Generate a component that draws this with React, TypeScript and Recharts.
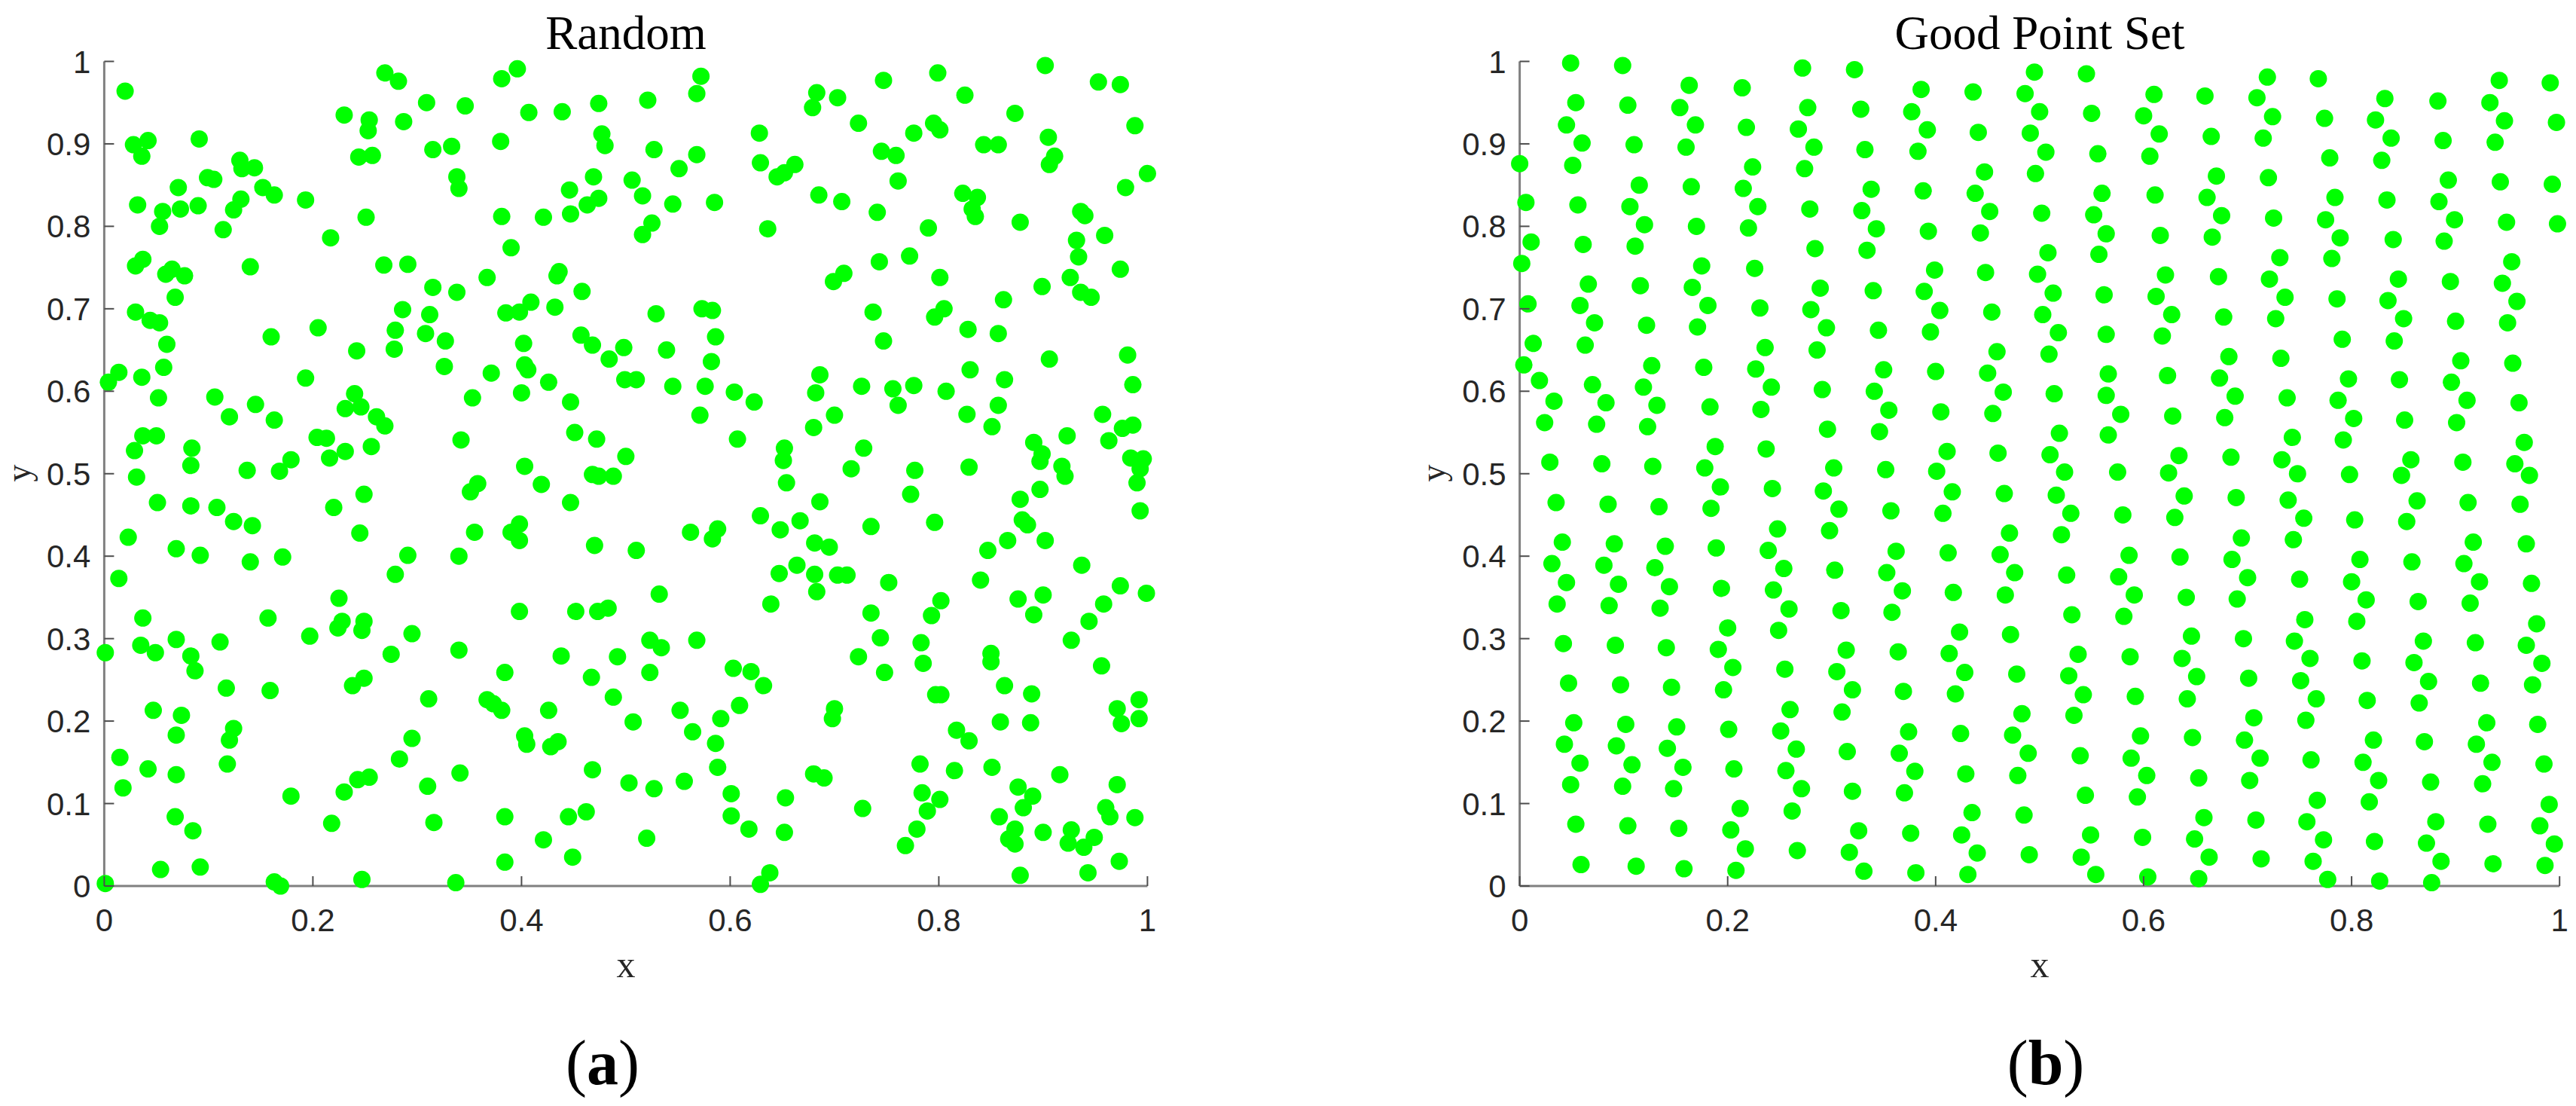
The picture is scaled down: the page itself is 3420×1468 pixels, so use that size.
import React from "react";
import { Scatter, ScatterChart, XAxis, YAxis } from "recharts";

const xTicks = [0, 0.2, 0.4, 0.6, 0.8, 1];
const yTicks = [0, 0.1, 0.2, 0.3, 0.4, 0.5, 0.6, 0.7, 0.8, 0.9, 1];

// (a) Random
const randomPoints: [number, number][] = [
  [0.020,0.964],[0.269,0.986],[0.282,0.976],[0.381,0.979],[0.396,0.991],[0.309,0.950],[0.346,0.946],[0.407,0.938],[0.439,0.939],[0.474,0.949],
  [0.230,0.935],[0.254,0.929],[0.253,0.916],[0.287,0.927],[0.028,0.899],[0.042,0.904],[0.036,0.885],[0.091,0.906],[0.244,0.884],[0.257,0.886],
  [0.315,0.893],[0.333,0.897],[0.380,0.903],[0.477,0.912],[0.480,0.898],[0.130,0.880],[0.132,0.870],[0.144,0.871],[0.099,0.859],[0.105,0.857],
  [0.071,0.847],[0.152,0.847],[0.163,0.838],[0.338,0.860],[0.340,0.846],[0.469,0.860],[0.506,0.856],[0.032,0.826],[0.056,0.818],[0.073,0.821],
  [0.090,0.825],[0.131,0.833],[0.124,0.820],[0.193,0.832],[0.053,0.800],[0.251,0.811],[0.381,0.812],[0.421,0.811],[0.446,0.844],[0.474,0.834],
  [0.463,0.826],[0.447,0.815],[0.114,0.796],[0.217,0.786],[0.390,0.774],[0.030,0.752],[0.037,0.760],[0.059,0.742],[0.065,0.748],[0.077,0.740],
  [0.068,0.714],[0.140,0.751],[0.268,0.753],[0.291,0.754],[0.367,0.738],[0.436,0.745],[0.434,0.740],[0.315,0.726],[0.338,0.720],[0.458,0.721],
  [0.030,0.696],[0.044,0.686],[0.053,0.683],[0.060,0.657],[0.160,0.666],[0.205,0.677],[0.286,0.699],[0.312,0.693],[0.279,0.674],[0.308,0.670],
  [0.327,0.661],[0.278,0.651],[0.242,0.649],[0.385,0.695],[0.398,0.696],[0.409,0.708],[0.432,0.702],[0.457,0.668],[0.468,0.656],[0.402,0.658],
  [0.484,0.639],[0.498,0.653],[0.403,0.632],[0.406,0.626],[0.326,0.630],[0.371,0.622],[0.426,0.611],[0.400,0.598],[0.447,0.587],[0.353,0.592],
  [0.193,0.616],[0.004,0.611],[0.014,0.623],[0.036,0.617],[0.057,0.629],[0.052,0.592],[0.106,0.593],[0.120,0.569],[0.145,0.584],[0.163,0.565],
  [0.240,0.597],[0.231,0.579],[0.246,0.581],[0.261,0.569],[0.269,0.558],[0.037,0.546],[0.050,0.546],[0.029,0.528],[0.084,0.531],[0.083,0.510],
  [0.204,0.544],[0.213,0.543],[0.216,0.519],[0.231,0.527],[0.256,0.533],[0.179,0.517],[0.168,0.503],[0.137,0.504],[0.342,0.541],[0.451,0.550],
  [0.472,0.542],[0.403,0.509],[0.500,0.521],[0.031,0.496],
  [0.572,0.982],[0.568,0.961],[0.521,0.953],[0.683,0.962],[0.679,0.944],[0.703,0.956],[0.747,0.977],[0.799,0.986],[0.902,0.995],[0.953,0.975],
  [0.974,0.972],[0.825,0.959],[0.873,0.937],[0.723,0.925],[0.795,0.925],[0.801,0.917],[0.776,0.913],[0.988,0.922],[0.628,0.913],[0.905,0.908],
  [0.843,0.899],[0.857,0.899],[0.527,0.893],[0.568,0.887],[0.551,0.870],[0.629,0.877],[0.662,0.875],[0.645,0.860],[0.652,0.865],[0.745,0.891],
  [0.759,0.886],[0.911,0.885],[0.906,0.875],[1.000,0.864],[0.979,0.847],[0.761,0.855],[0.516,0.837],[0.545,0.827],[0.585,0.829],[0.685,0.838],
  [0.707,0.830],[0.741,0.817],[0.823,0.840],[0.837,0.835],[0.832,0.821],[0.835,0.812],[0.878,0.805],[0.936,0.818],[0.940,0.813],[0.790,0.798],
  [0.636,0.797],[0.525,0.804],[0.516,0.790],[0.932,0.783],[0.959,0.789],[0.934,0.763],[0.743,0.757],[0.772,0.764],[0.709,0.743],[0.699,0.733],
  [0.801,0.738],[0.974,0.748],[0.899,0.727],[0.926,0.738],[0.936,0.720],[0.946,0.714],[0.862,0.711],[0.529,0.694],[0.573,0.700],[0.583,0.698],
  [0.586,0.666],[0.737,0.696],[0.805,0.700],[0.796,0.690],[0.828,0.675],[0.857,0.670],[0.747,0.661],[0.906,0.639],[0.981,0.644],[0.539,0.650],
  [0.582,0.636],[0.499,0.614],[0.510,0.614],[0.545,0.606],[0.576,0.606],[0.604,0.599],[0.623,0.587],[0.571,0.571],[0.686,0.620],[0.682,0.598],
  [0.726,0.606],[0.756,0.603],[0.761,0.583],[0.776,0.607],[0.807,0.600],[0.830,0.626],[0.863,0.614],[0.857,0.583],[0.827,0.572],[0.851,0.557],
  [0.700,0.571],[0.680,0.556],[0.607,0.542],[0.652,0.531],[0.651,0.516],[0.728,0.531],[0.986,0.608],[0.957,0.572],[0.976,0.555],[0.986,0.559],
  [0.963,0.540],[0.923,0.546],[0.891,0.538],[0.899,0.524],[0.897,0.515],[0.918,0.509],[0.984,0.519],[0.996,0.518],[0.993,0.506],[0.716,0.506],
  [0.777,0.504],[0.829,0.508],
  [0.468,0.499],[0.474,0.497],[0.488,0.497],[0.051,0.465],[0.083,0.461],[0.108,0.459],[0.124,0.442],[0.142,0.437],[0.023,0.423],[0.069,0.409],
  [0.092,0.401],[0.140,0.393],[0.171,0.399],[0.220,0.459],[0.249,0.475],[0.245,0.428],[0.291,0.401],[0.279,0.378],[0.340,0.400],[0.351,0.478],
  [0.358,0.488],[0.355,0.429],[0.419,0.487],[0.447,0.465],[0.390,0.429],[0.398,0.439],[0.398,0.419],[0.470,0.413],[0.510,0.407],[0.014,0.373],
  [0.037,0.325],[0.157,0.325],[0.225,0.349],[0.228,0.321],[0.224,0.313],[0.249,0.321],[0.247,0.310],[0.197,0.303],[0.295,0.306],[0.275,0.281],
  [0.340,0.286],[0.398,0.333],[0.452,0.333],[0.473,0.333],[0.483,0.337],[0.438,0.279],[0.492,0.278],[0.467,0.253],[0.384,0.259],[0.488,0.229],
  [0.367,0.226],[0.373,0.221],[0.381,0.213],[0.426,0.213],[0.311,0.227],[0.001,0.283],[0.035,0.292],[0.049,0.283],[0.069,0.299],[0.083,0.279],
  [0.087,0.261],[0.111,0.296],[0.117,0.240],[0.159,0.237],[0.238,0.243],[0.249,0.252],[0.047,0.213],[0.074,0.207],[0.069,0.183],[0.124,0.191],
  [0.120,0.177],[0.015,0.156],[0.042,0.142],[0.069,0.135],[0.018,0.119],[0.118,0.148],[0.179,0.109],[0.230,0.114],[0.243,0.129],[0.254,0.132],
  [0.283,0.154],[0.295,0.179],[0.310,0.121],[0.341,0.137],[0.403,0.182],[0.405,0.172],[0.428,0.169],[0.435,0.175],[0.468,0.141],[0.507,0.199],
  [0.503,0.125],[0.068,0.084],[0.085,0.067],[0.218,0.076],[0.316,0.077],[0.384,0.084],[0.445,0.084],[0.462,0.090],[0.421,0.056],[0.384,0.029],
  [0.449,0.035],[0.054,0.020],[0.092,0.023],[0.001,0.003],[0.163,0.005],[0.169,0.000],[0.247,0.008],[0.337,0.004],
  [0.921,0.497],[0.990,0.489],[0.993,0.455],[0.654,0.489],[0.686,0.466],[0.773,0.475],[0.629,0.449],[0.648,0.432],[0.667,0.443],[0.735,0.436],
  [0.796,0.441],[0.878,0.469],[0.897,0.481],[0.880,0.444],[0.885,0.438],[0.866,0.419],[0.847,0.407],[0.902,0.419],[0.562,0.429],[0.588,0.433],
  [0.583,0.421],[0.681,0.416],[0.695,0.411],[0.647,0.379],[0.664,0.389],[0.681,0.378],[0.683,0.357],[0.703,0.377],[0.712,0.377],[0.752,0.368],
  [0.840,0.371],[0.937,0.389],[0.532,0.354],[0.639,0.342],[0.735,0.331],[0.802,0.346],[0.793,0.328],[0.876,0.348],[0.900,0.353],[0.891,0.329],
  [0.974,0.364],[0.999,0.355],[0.958,0.342],[0.944,0.321],[0.927,0.298],[0.523,0.298],[0.534,0.289],[0.568,0.298],[0.744,0.301],[0.783,0.295],
  [0.723,0.278],[0.785,0.270],[0.748,0.259],[0.850,0.282],[0.850,0.272],[0.956,0.267],[0.523,0.259],[0.603,0.264],[0.620,0.260],[0.632,0.243],
  [0.609,0.219],[0.591,0.203],[0.552,0.213],[0.564,0.187],[0.586,0.173],[0.700,0.215],[0.698,0.203],[0.797,0.232],[0.802,0.232],[0.863,0.243],
  [0.889,0.233],[0.859,0.199],[0.888,0.198],[0.817,0.189],[0.829,0.176],[0.971,0.215],[0.992,0.226],[0.975,0.197],[0.992,0.203],[0.588,0.144],
  [0.527,0.118],[0.556,0.127],[0.601,0.112],[0.601,0.085],[0.618,0.069],[0.653,0.107],[0.652,0.065],[0.680,0.136],[0.690,0.131],[0.727,0.094],
  [0.782,0.148],[0.815,0.140],[0.851,0.144],[0.784,0.113],[0.801,0.105],[0.789,0.091],[0.779,0.069],[0.768,0.049],[0.916,0.135],[0.876,0.120],
  [0.890,0.109],[0.881,0.095],[0.858,0.084],[0.873,0.069],[0.867,0.057],[0.873,0.051],[0.900,0.065],[0.927,0.068],[0.924,0.052],[0.939,0.047],
  [0.949,0.059],[0.971,0.123],[0.960,0.095],[0.964,0.084],[0.988,0.083],[0.973,0.030],[0.943,0.016],[0.878,0.013],[0.520,0.058],[0.638,0.016],
  [0.629,0.002],
];

// (b) Good Point Set
const goodPoints: [number, number][] = [
  [0.049,0.998],[0.099,0.995],[0.054,0.950],[0.104,0.947],[0.045,0.923],[0.060,0.901],[0.110,0.899],[0.000,0.876],[0.051,0.874],[0.115,0.850],
  [0.006,0.829],[0.056,0.826],[0.106,0.824],[0.120,0.802],[0.011,0.781],[0.061,0.778],[0.111,0.776],[0.002,0.755],[0.066,0.730],[0.116,0.728],
  [0.008,0.706],[0.058,0.704],[0.072,0.683],[0.122,0.680],[0.013,0.658],[0.063,0.656],[0.004,0.632],[0.127,0.631],[0.019,0.613],
  [0.070,0.608],[0.083,0.586],[0.074,0.560],[0.079,0.512],[0.085,0.463],[0.091,0.415],[0.081,0.389],[0.095,0.366],[0.086,0.340],[0.092,0.292],
  [0.097,0.244],[0.102,0.196],[0.093,0.170],[0.108,0.147],[0.099,0.121],[0.104,0.073],[0.112,0.024],
  [0.033,0.588],[0.024,0.562],[0.029,0.514],[0.035,0.465],[0.041,0.417],[0.031,0.391],[0.045,0.368],[0.036,0.342],[0.042,0.294],[0.047,0.246],
  [0.052,0.198],[0.043,0.172],[0.058,0.149],[0.049,0.123],[0.054,0.075],[0.059,0.026],
  [0.272,0.992],[0.322,0.990],[0.163,0.971],[0.214,0.968],[0.386,0.966],[0.436,0.963],[0.495,0.987],[0.545,0.985],[0.154,0.944],[0.277,0.944],
  [0.328,0.942],[0.377,0.939],[0.486,0.961],[0.500,0.939],[0.550,0.937],[0.169,0.923],[0.218,0.920],[0.268,0.918],[0.392,0.917],[0.441,0.914],
  [0.491,0.913],[0.160,0.896],[0.283,0.896],[0.332,0.893],[0.383,0.891],[0.506,0.890],[0.556,0.888],[0.224,0.872],[0.274,0.870],[0.447,0.866],
  [0.496,0.864],[0.165,0.848],[0.215,0.846],[0.338,0.845],[0.388,0.843],[0.438,0.840],[0.560,0.840],[0.229,0.824],[0.279,0.821],[0.329,0.819],
  [0.452,0.818],[0.502,0.816],[0.552,0.814],[0.170,0.800],[0.220,0.798],[0.343,0.797],[0.393,0.794],[0.443,0.792],[0.564,0.791],[0.284,0.773],
  [0.334,0.771],[0.508,0.768],[0.557,0.766],[0.175,0.752],[0.226,0.749],[0.399,0.747],[0.448,0.744],[0.498,0.742],[0.166,0.726],[0.289,0.725],
  [0.340,0.722],[0.389,0.721],[0.513,0.719],[0.562,0.717],[0.181,0.704],[0.231,0.701],[0.280,0.699],[0.404,0.698],[0.454,0.696],[0.503,0.693],
  [0.171,0.678],[0.295,0.677],[0.345,0.674],[0.395,0.672],[0.518,0.671],[0.564,0.669],[0.236,0.653],[0.286,0.650],[0.459,0.648],[0.509,0.645],
  [0.177,0.629],[0.227,0.627],[0.350,0.626],[0.400,0.624],[0.450,0.622],[0.566,0.621],[0.119,0.605],[0.242,0.605],[0.291,0.602],[0.341,0.600],
  [0.465,0.599],[0.514,0.597],[0.564,0.595],[0.132,0.583],[0.183,0.581],[0.232,0.578],[0.355,0.577],[0.405,0.575],[0.455,0.573],[0.123,0.557],
  [0.296,0.554],[0.346,0.551],[0.519,0.549],[0.566,0.547],[0.188,0.533],[0.237,0.530],[0.411,0.527],[0.460,0.525],[0.510,0.523],[0.128,0.509],
  [0.178,0.507],[0.302,0.507],[0.352,0.505],[0.401,0.503],[0.524,0.502],
  [0.719,0.981],[0.768,0.979],[0.942,0.977],[0.991,0.974],[0.610,0.960],[0.659,0.958],[0.709,0.956],[0.832,0.955],[0.883,0.952],[0.933,0.950],
  [0.600,0.934],[0.724,0.933],[0.774,0.931],[0.823,0.929],[0.947,0.928],[0.997,0.926],[0.615,0.912],[0.665,0.909],[0.715,0.907],[0.838,0.907],
  [0.888,0.904],[0.938,0.902],[0.606,0.885],[0.779,0.883],[0.829,0.880],[0.670,0.861],[0.720,0.859],[0.893,0.856],[0.943,0.854],[0.993,0.851],
  [0.611,0.838],[0.661,0.835],[0.784,0.835],[0.834,0.832],[0.884,0.830],[0.675,0.813],[0.725,0.810],[0.775,0.808],[0.899,0.808],[0.949,0.805],
  [0.998,0.803],[0.616,0.789],[0.666,0.787],[0.789,0.786],[0.840,0.784],[0.889,0.782],[0.731,0.762],[0.781,0.761],[0.954,0.757],[0.621,0.741],
  [0.672,0.739],[0.721,0.736],[0.845,0.736],[0.895,0.733],[0.945,0.731],[0.612,0.715],[0.736,0.714],[0.786,0.712],[0.835,0.710],[0.959,0.709],
  [0.627,0.693],[0.677,0.690],[0.727,0.688],[0.850,0.688],[0.900,0.685],[0.950,0.683],[0.618,0.667],[0.791,0.663],[0.841,0.661],[0.682,0.642],
  [0.732,0.640],[0.905,0.637],[0.955,0.634],[0.623,0.619],[0.673,0.616],[0.797,0.615],[0.846,0.614],[0.896,0.611],[0.688,0.594],[0.738,0.592],
  [0.787,0.589],[0.911,0.589],[0.961,0.586],[0.578,0.572],[0.628,0.570],[0.678,0.568],[0.802,0.567],[0.851,0.565],[0.901,0.562],[0.743,0.544],
  [0.792,0.541],[0.966,0.538],[0.634,0.522],[0.684,0.520],[0.733,0.517],[0.857,0.517],[0.907,0.514],[0.957,0.512],[0.575,0.502],[0.624,0.501],
  [0.748,0.500],[0.798,0.499],[0.848,0.498],[0.971,0.498],
  [0.193,0.484],[0.243,0.482],[0.292,0.479],[0.416,0.478],[0.466,0.476],[0.516,0.474],[0.134,0.460],[0.184,0.458],[0.307,0.457],[0.357,0.455],
  [0.407,0.452],[0.530,0.452],[0.248,0.433],[0.298,0.431],[0.471,0.428],[0.521,0.426],[0.140,0.412],[0.189,0.410],[0.239,0.407],[0.362,0.406],
  [0.412,0.404],[0.462,0.402],[0.130,0.386],[0.254,0.385],[0.303,0.383],[0.353,0.380],[0.476,0.380],[0.526,0.377],[0.144,0.363],[0.194,0.361],
  [0.244,0.359],[0.368,0.358],[0.417,0.356],[0.467,0.353],[0.135,0.337],[0.259,0.336],[0.309,0.334],[0.358,0.332],[0.531,0.329],[0.200,0.313],
  [0.249,0.310],[0.423,0.308],[0.472,0.305],[0.141,0.289],[0.191,0.287],[0.314,0.286],[0.364,0.284],[0.413,0.282],[0.537,0.281],[0.205,0.265],
  [0.255,0.263],[0.305,0.260],[0.428,0.259],[0.478,0.257],[0.528,0.255],[0.146,0.241],[0.196,0.238],[0.320,0.238],[0.369,0.236],[0.419,0.233],
  [0.542,0.232],[0.260,0.214],[0.310,0.211],[0.483,0.209],[0.533,0.207],[0.151,0.193],[0.201,0.190],[0.251,0.188],[0.374,0.187],[0.424,0.185],
  [0.474,0.183],[0.142,0.167],[0.266,0.166],[0.315,0.163],[0.365,0.161],[0.489,0.161],[0.539,0.158],[0.157,0.144],[0.206,0.142],[0.256,0.140],
  [0.380,0.139],[0.429,0.136],[0.479,0.134],[0.148,0.118],[0.271,0.118],[0.320,0.115],[0.370,0.113],[0.544,0.110],[0.212,0.094],[0.262,0.091],
  [0.435,0.089],[0.485,0.086],[0.153,0.070],[0.203,0.068],[0.326,0.067],[0.376,0.064],[0.425,0.062],[0.549,0.062],[0.217,0.045],[0.267,0.043],
  [0.317,0.041],[0.440,0.040],[0.490,0.038],[0.540,0.035],[0.158,0.021],[0.208,0.019],[0.331,0.018],[0.381,0.016],[0.431,0.014],[0.554,0.014],
  [0.639,0.473],[0.689,0.471],[0.739,0.468],[0.863,0.467],[0.912,0.465],[0.962,0.463],[0.580,0.450],[0.630,0.447],[0.754,0.446],[0.803,0.444],
  [0.853,0.442],[0.694,0.422],[0.744,0.420],[0.917,0.417],[0.968,0.415],[0.586,0.401],[0.635,0.399],[0.685,0.396],[0.808,0.396],[0.858,0.393],
  [0.908,0.391],[0.576,0.375],[0.700,0.374],[0.750,0.372],[0.800,0.369],[0.923,0.369],[0.973,0.367],[0.591,0.353],[0.641,0.350],[0.690,0.348],
  [0.814,0.347],[0.864,0.345],[0.914,0.343],[0.581,0.327],[0.755,0.323],[0.805,0.321],[0.978,0.318],[0.646,0.303],[0.696,0.300],[0.745,0.297],
  [0.869,0.297],[0.919,0.295],[0.968,0.292],[0.587,0.278],[0.637,0.276],[0.760,0.276],[0.810,0.273],[0.860,0.271],[0.983,0.270],[0.651,0.254],
  [0.701,0.252],[0.751,0.249],[0.874,0.248],[0.924,0.246],[0.974,0.244],[0.592,0.230],[0.642,0.227],[0.766,0.227],[0.815,0.225],[0.865,0.222],
  [0.706,0.204],[0.756,0.201],[0.930,0.198],[0.979,0.196],[0.597,0.182],[0.647,0.180],[0.697,0.177],[0.821,0.177],[0.870,0.175],[0.920,0.172],
  [0.588,0.155],[0.712,0.155],[0.761,0.153],[0.811,0.150],[0.935,0.150],[0.985,0.148],[0.603,0.134],[0.653,0.131],[0.702,0.128],[0.826,0.128],
  [0.876,0.126],[0.926,0.124],[0.594,0.108],[0.767,0.104],[0.817,0.102],[0.990,0.099],[0.658,0.083],[0.708,0.080],[0.757,0.078],[0.881,0.078],
  [0.931,0.075],[0.981,0.073],[0.599,0.059],[0.649,0.057],[0.773,0.056],[0.822,0.054],[0.872,0.052],[0.995,0.051],[0.663,0.035],[0.713,0.033],
  [0.763,0.030],[0.886,0.030],[0.936,0.027],[0.986,0.025],[0.604,0.011],[0.653,0.009],[0.777,0.008],[0.827,0.006],[0.877,0.004],
];

const green = "#00ff00";
const tickFont = "'Liberation Sans', Arial, sans-serif";
const textFont = "'Liberation Serif', 'Times New Roman', serif";

const toData = (pts: [number, number][]) => pts.map(([x, y]) => ({ x, y }));

function Dot(props: any) {
  return <circle cx={props.cx} cy={props.cy} r={11.5} fill={green} />;
}

function XTick(props: any) {
  const { x, y, payload } = props;
  return (
    <g>
      <line x1={x} x2={x} y1={y} y2={y - 13} stroke="#4d4d4d" strokeWidth={2} />
      <text x={x} y={y + 60} textAnchor="middle" fontFamily={tickFont} fontSize={42} fill="#262626">
        {String(payload.value)}
      </text>
    </g>
  );
}

function YTick(props: any) {
  const { x, y, payload } = props;
  return (
    <g>
      <line x1={x} x2={x + 13} y1={y} y2={y} stroke="#4d4d4d" strokeWidth={2} />
      <text x={x - 18} y={y + 15} textAnchor="end" fontFamily={tickFont} fontSize={42} fill="#262626">
        {String(payload.value)}
      </text>
    </g>
  );
}

function Panel(props: { data: { x: number; y: number }[]; left: number; width: number; ml: number; mr: number }) {
  const axisLine = { stroke: "#808080", strokeWidth: 3 };
  return (
    <div style={{ position: "absolute", left: props.left, top: 0 }}>
      <ScatterChart
        width={props.width}
        height={1468}
        margin={{ top: 81.5, right: props.mr, bottom: 242, left: props.ml }}
      >
        <XAxis
          type="number"
          dataKey="x"
          domain={[0, 1]}
          ticks={xTicks}
          interval={0}
          height={50}
          tickSize={0}
          tickMargin={0}
          tickLine={false}
          axisLine={axisLine}
          tick={XTick}
        />
        <YAxis
          type="number"
          dataKey="y"
          domain={[0, 1]}
          ticks={yTicks}
          interval={0}
          width={100}
          tickSize={0}
          tickMargin={0}
          tickLine={false}
          axisLine={axisLine}
          tick={YTick}
        />
        <Scatter data={props.data} shape={Dot} isAnimationActive={false} />
      </ScatterChart>
    </div>
  );
}

export default function App() {
  return (
    <div style={{ position: "absolute", left: 0, top: 0, width: 3420, height: 1468, background: "#fff" }}>
      <Panel data={toData(randomPoints)} left={0} width={1700} ml={38.4} mr={176.6} />
      <Panel data={toData(goodPoints)} left={1700} width={1720} ml={217.6} mr={21.8} />
      <svg width={3420} height={1468} style={{ position: "absolute", left: 0, top: 0, pointerEvents: "none" }}>
        <text x={831} y={65} textAnchor="middle" fontFamily={textFont} fontSize={63} fill="#000">Random</text>
        <text x={2708} y={65} textAnchor="middle" fontFamily={textFont} fontSize={63} fill="#000">Good Point Set</text>
        <text x={831} y={1297} textAnchor="middle" fontFamily={textFont} fontSize={50} fill="#262626">x</text>
        <text x={2708} y={1297} textAnchor="middle" fontFamily={textFont} fontSize={50} fill="#262626">x</text>
        <text x={40} y={628} textAnchor="middle" fontFamily={textFont} fontSize={46} fill="#262626" transform="rotate(-90 40 628)">y</text>
        <text x={1918} y={628} textAnchor="middle" fontFamily={textFont} fontSize={46} fill="#262626" transform="rotate(-90 1918 628)">y</text>
        <text x={800} y={1439} textAnchor="middle" fontFamily={textFont} fontSize={84} fill="#000">
          (<tspan fontWeight="bold">a</tspan>)
        </text>
        <text x={2716} y={1439} textAnchor="middle" fontFamily={textFont} fontSize={84} fill="#000">
          (<tspan fontWeight="bold">b</tspan>)
        </text>
      </svg>
    </div>
  );
}
